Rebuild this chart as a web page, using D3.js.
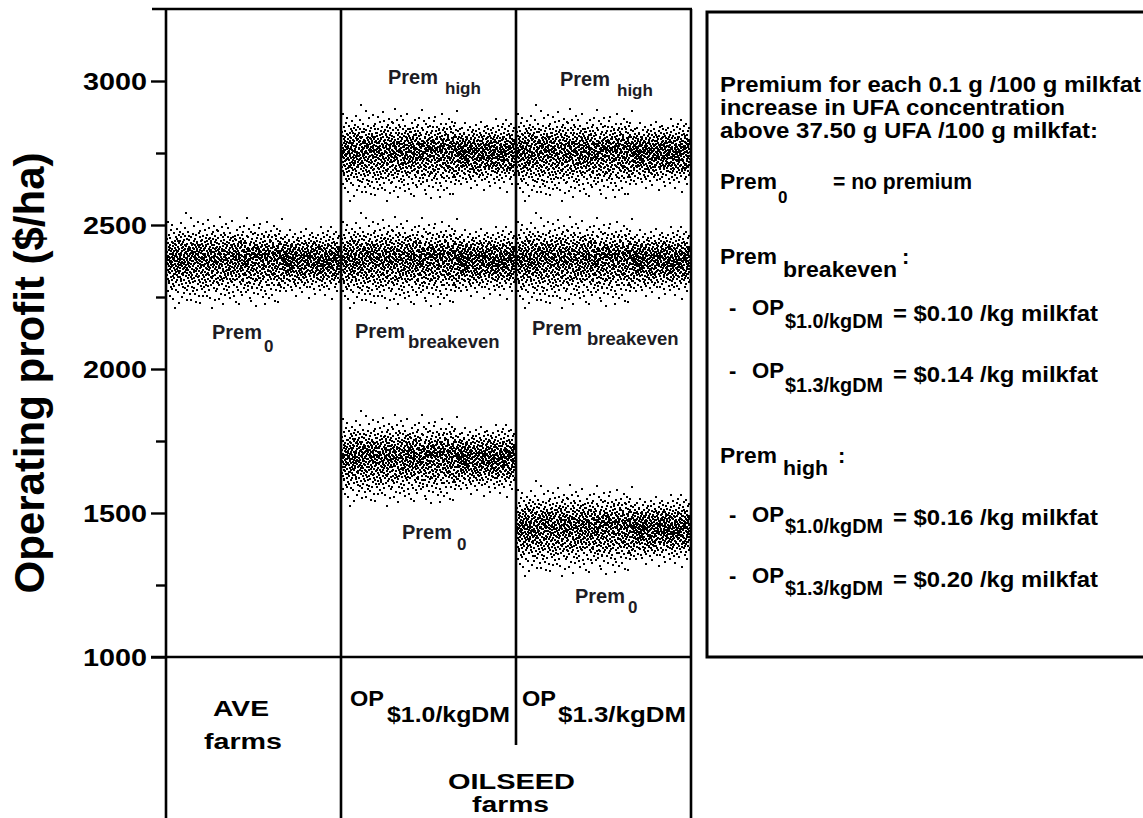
<!DOCTYPE html>
<html>
<head>
<meta charset="utf-8">
<script src="https://cdn.jsdelivr.net/npm/d3@7"></script>
<style>
  body { margin: 0; background: #fff; }
  svg { display: block; font-family: "Liberation Sans", Arial, sans-serif; font-weight: bold; }
</style>
</head>
<body>
<div id="chart"></div>
<script>
// columns of the plot (farm system)
const categories = ["AVE", "OP10", "OP13"];

// one cloud of simulated outcomes per column / premium scenario
const cloudColumn = ["AVE", "OP10", "OP10", "OP10", "OP13", "OP13", "OP13"];
const cloudPremium = ["Prem0", "PremHigh", "PremBreakeven", "Prem0", "PremHigh", "PremBreakeven", "Prem0"];
const cloudMean = [2372, 2745, 2372, 1685, 2745, 2372, 1441];

const majorTicks = [1000, 1500, 2000, 2500, 3000];
const minorTicks = [1250, 1750, 2250, 2750];

// deviation of each simulation iteration from the scenario mean ($/ha)
const drawDeviation = [
  12, -45, 78, -3, 33, -101, 21, -58, 5, 64, -27, 140, -9, 41, -72, 17, -36, 95, -14, 52,
  -66, 8, 29, -118, 47, -2, -39, 83, 15, -24, 59, -87, 3, 36, -51, 110, -19, 26, -7, -62,
  44, -15, -93, 70, 1, -33, 18, 127, -48, 9, -76, 31, 55, -11, -129, 23, 67, -41, 6, -20,
  -84, 38, 13, -57, 99, -6, 48, -28, -160, 74, 19, -43, 2, 61, -35, 88, -13, -70, 27, 40,
  57, -99, 22, 16, -47, 81, -25, 4, 115, -64, 34, -8, -31, 50, 11, -106, 73, -18, 39, -54,
  -1, 65, -37, 92, -12, -80, 28, 46, -143, 14, -23, 71, 7, -52, 103, -30, 20, -68, 58, -4,
  30, -10, 85, -59, 25, 135, -42, -16, 63, 0, -77, 37, -122, 10, 49, -26, 96, -45, -5, 68,
  -38, 53, -89, 18, -7, 42, -108, 76, 24, -21, 5, -63, 119, -34, 60, -2, 32, -91, 45, -17,
  89, -29, 13, 56, -73, -11, 35, 170, -50, 8, -97, 27, 62, -40, 15, -132, 79, -22, 1, 43,
  -56, 19, -6, -84, 104, 38, -28, 51, -14, 77, -46, -3, 90, -67, 22, -113, 47, 9, -35, 28,
  6, -75, 41, -19, 67, -131, 30, 12, -53, 86, -9, -40, 152, 21, -61, 4, 37, -88, 57, -24,
  -44, 98, -15, 26, -70, 49, 3, -102, 33, 62, -27, 16, -57, 125, -8, 44, -36, 72, -92, 10,
  58, -4, -66, 20, 35, -110, 81, -31, 7, -48, 14, 93, -20, 52, -139, 27, -2, 65, -43, 39,
  -25, 70, 11, -96, 46, -13, 29, -54, 137, -5, 60, -78, 24, -33, 8, 100, -64, 17, -118, 53,
  34, -50, 87, -8, -23, 59, -142, 42, 2, -71, 107, -18, 31, 74, -39, -10, 48, -85, 15, -60,
  76, -36, 9, 63, -94, 18, -1, 39, -120, 55, -29, 90, -12, -47, 26, 130, -73, 5, 44, -16,
  -52, 23, -86, 40, 12, -34, 111, -62, 28, -7, 69, -105, 19, 47, -21, 3, -79, 58, -44, 82,
  17, -69, 54, -26, 95, -3, -117, 36, 71, -41, 6, -58, 146, -14, 32, -83, 61, -9, 25, -37,
  -99, 45, -17, 78, 0, -46, 21, 116, -28, 51, -65, 13, -124, 38, 84, -22, 7, -53, 66, 30,
  41, -12, 72, -81, 27, 10, -38, 97, -56, 4, -161, 35, 59, -30, 18, -74, 103, -6, 49, -19,
  -32, 80, -49, 14, 123, -67, 33, -2, -90, 57, 20, -11, 68, -44, -134, 29, 46, -25, 8, 91,
  22, -60, 3, 47, -100, 36, 75, -18, -4, 64, -39, 112, -71, 16, -27, 52, -8, -95, 40, 1,
  -73, 28, 108, -35, 13, -55, 84, -14, 43, -128, 9, 61, -22, 35, -82, 5, 157, -48, 24, -6,
  50, -21, -63, 31, 92, -9, -40, 18, -112, 73, 26, -52, 2, 44, -77, 120, -15, 37, -59, 11,
  -11, 66, -30, -148, 39, 55, -24, 85, -1, -68, 17, 42, -93, 29, 101, -36, 7, -56, 76, -43,
  94, -7, 37, -45, 19, -116, 62, 6, -33, 48, -84, 23, 133, -19, -51, 13, 70, -28, -3, 57,
  -61, 35, -97, 9, 54, -12, 27, -74, 88, -37, 2, 118, -46, 30, -20, 65, -107, 41, 15, -29,
  26, -89, 47, 76, -26, -5, 100, -58, 34, -14, -127, 60, 8, -42, 83, 19, -65, 3, -34, 51,
  -17, 58, -2, -70, 32, 141, -48, 21, -9, 71, -31, 10, -103, 45, 24, -60, 87, -23, 38, -80,
  63, -40, 16, 29, -119, 7, -27, 56, 90, -64, -15, 39, -4, 78, -45, 22, -138, 49, -8, 34,
  -48, 12, 77, -22, 5, -87, 44, 109, -35, 27, -58, 1, 61, -16, -99, 36, 54, -30, 93, -13,
  10, -53, 31, 69, -41, 18, -145, 25, -6, 82, -71, 47, 14, -26, 121, -49, 3, 66, -18, -105,
  71, -33, -14, 50, -78, 24, 8, -62, 95, 37, -21, -114, 57, -3, 20, -43, 80, -11, 42, -66,
  -28, 102, -59, 4, 40, -9, -92, 33, 64, -47, 16, 126, -37, -2, 52, -81, 11, -19, 74, 25,
  55, -16, 22, -103, 67, -44, 35, -8, 12, -57, 91, 3, -30, 154, -72, 28, -13, 46, -96, 7,
  -7, 48, -83, 36, -24, 85, 1, -51, 115, -17, 29, -69, 43, 9, -36, 62, -125, 19, 57, -40,
  38, -72, 6, 59, 13, -29, -136, 70, -45, 24, 105, -12, -55, 32, 0, -88, 45, 79, -20, 15,
  -91, 27, 49, -15, -61, 96, -33, 11, 41, -5, -76, 53, 18, -108, 66, -24, 30, -47, 128, -3,
  19, -42, 99, -68, 26, -10, 58, -152, 37, 8, -27, 73, -60, 16, 47, -4, -90, 24, -35, 60,
  -64, 83, -20, 5, 44, -113, 17, 51, -39, 94, -7, -50, 28, -81, 12, 39, -14, 117, -57, 31,
  46, -5, -74, 38, 131, -31, 9, -55, 66, -18, 23, -98, 52, 35, -43, 2, 80, -67, 14, -26,
  -37, 60, 17, -86, 24, 55, -12, 97, -49, 8, -122, 41, -23, 70, -2, 27, -61, 43, -15, 89,
  85, -24, 42, -6, -52, 20, 74, -100, 31, -35, 12, 60, -147, 26, -19, 105, -41, 6, 53, -70,
  -14, 36, -111, 63, 7, -44, 28, 15, -80, 50, 140, -28, -9, 45, -63, 21, -32, 86, -1, 40,
  28, -81, 55, -19, 92, -3, -47, 34, -125, 18, 69, -14, 37, -54, 4, 77, -30, -93, 47, 12,
  -58, 15, 4, 71, -35, 107, -22, 49, -6, -74, 32, 88, -41, 10, -115, 55, 24, -12, 62, -46,
  67, -28, 33, -60, 18, -9, 124, -39, 51, 3, -82, 26, -17, 95, -53, 40, 9, -137, 30, -21,
  -42, 90, -13, 25, -96, 43, -30, 8, 78, -64, 19, -5, 56, -26, 113, -48, 36, 2, -79, 54,
  9, -50, 74, 47, -18, -139, 30, -72, 14, 61, -34, 98, -11, 39, -56, 22, -102, 68, -3, 27,
  -79, 31, -26, 108, 12, -45, 62, 19, -88, 37, -6, -59, 84, -24, 6, 150, -41, 15, -68, 44,
  14, -38, 52, -7, 25, -66, 3, 41, -19, 80, -48, 9, -27, 60, -2, -91, 33, 18, -55, 70,
  -23, 6, 47, -74, 29, -12, 88, -40, 1, 35, -9, 58, -101, 22, -31, 11, 64, -45, 17, -3,
  39, -58, -16, 26, 93, -35, 8, -6, 54, -82, 21, -27, 45, 2, -63, 75, -14, 30, -41, 12,
  -8, 72, -29, 16, -50, 4, 37, 109, -20, -67, 43, 13, -36, 59, -4, 28, -87, 50, -12, -25,
  61, -19, 33, -44, 10, -97, 55, -1, 24, 41, -58, 7, 86, -30, 18, -15, 38, -70, 5, 47,
  -36, 15, -5, 68, -23, 44, -78, 30, 12, -49, 96, -10, 26, -62, 3, 53, -33, 20, -118, 35,
  27, -84, 58, -13, 6, -39, 19, 77, -52, 1, 31, -21, 63, -8, -74, 40, 11, -46, 84, -18,
  -60, 42, 9, -31, 71, -4, -55, 24, 49, -16, -92, 36, 14, -40, 57, 0, -26, 102, -63, 20,
  4, -28, 83, -47, 16, 30, -11, -69, 45, 7, -34, 66, -20, 23, -105, 50, -7, 37, -53, 13,
  51, -9, -42, 19, -80, 62, 28, -24, 3, 90, -57, 15, -37, 46, -2, -72, 33, -14, 74, -45,
  -17, 35, 67, -54, 8, -21, 113, -36, 22, -5, 48, -88, 26, -11, 59, -30, 6, -64, 41, 2,
  20, -71, 13, 39, -27, 55, -3, 81, -43, 17, -15, 32, -125, 64, -8, 25, -48, 9, 95, -33,
  -49, 10, -86, 30, 52, -18, 4, -40, 73, -61, 37, -2, 18, 99, -29, 43, -12, -77, 21, 56,
  33, -23, 45, -6, -68, 87, -35, 14, -9, 61, -94, 28, 5, -45, 36, -16, 70, -4, -52, 19,
  -12, 64, -39, 23, 9, -111, 40, -22, 57, -1, 26, -70, 48, 12, -33, 84, -56, 31, -7, -26,
  74, -46, 1, -17, 38, 16, -59, 92, -28, 6, -41, 53, -14, -84, 27, 3, 60, -37, 11, 43,
  -3, 29, -62, 50, -30, 69, 7, -13, -99, 34, 15, -51, 79, -25, 44, -8, 21, -40, 122, -65,
  41, -14, 18, -79, 56, -35, 25, 3, -47, 100, -20, 38, -6, 65, -58, 12, -31, 47, -2, -89,
  -28, 85, -52, 7, -15, 46, -73, 32, 19, -38, 58, -10, -116, 24, 1, 71, -44, 16, 36, -21,
  10, -41, 30, 95, -61, 2, -24, 49, -9, 27, -83, 54, 20, -32, 107, -48, 8, -19, 62, -5,
  -54, 17, 76, -11, 34, -94, 13, 60, -27, -3, 42, -66, 88, -18, 29, 5, -39, 120, -75, 24,
  37, -7, -35, 55, -20, 11, 66, -50, 26, -130, 48, -16, 3, 35, -59, 81, -24, 14, -43, 0,
  -21, 47, 15, -64, 98, -29, 6, 31, -46, 22, -10, 70, -37, 9, -87, 44, 18, -55, 28, 63,
  58, -33, 23, -2, -48, 39, -78, 8, 104, -17, 53, -41, 12, -24, 67, -6, -101, 35, -13, 45,
  -42, 25, -11, 83, 4, -57, 32, -26, 50, 18, -71, 37, -4, 91, -36, 20, 7, -63, 43, -15
];

const width = 1143, height = 818;

const svg = d3.select("#chart").append("svg")
    .attr("width", width)
    .attr("height", height);

const y = d3.scaleLinear().domain([1000, 3250]).range([657, 9]);
const x = d3.scaleBand().domain(categories).range([166, 691]);

// helper for plain text, optionally squeezed/stretched to a measured width
function label(g, str, px, py, size, len) {
    const t = g.append("text")
        .attr("x", px)
        .attr("y", py)
        .style("font-size", size + "px")
        .style("fill", "#000")
        .text(str);
    if (len) t.attr("textLength", len).attr("lengthAdjust", "spacingAndGlyphs");
    return t;
}

// points
const n = drawDeviation.length;
cloudMean.forEach((m, c) => {
    const col = cloudColumn[c];
    const xi = d3.scaleLinear().domain([0, n - 1]).range([x(col) + 1, x(col) + x.bandwidth() - 1]);
    svg.append("g")
        .attr("class", "cloud " + cloudPremium[c])
        .selectAll("rect")
        .data(drawDeviation)
        .enter().append("rect")
        .attr("x", (d, i) => Math.round(xi(i)) - 1)
        .attr("y", d => Math.round(y(m + d)) - 1)
        .attr("width", 2)
        .attr("height", 2)
        .attr("shape-rendering", "crispEdges")
        .style("fill", "#000");
});

// frame lines
const yTop = y(3250);
const frame = svg.append("g").attr("stroke", "#000").attr("stroke-width", 2.6).attr("fill", "none");
frame.append("line").attr("x1", 152).attr("x2", 692).attr("y1", yTop).attr("y2", yTop);
frame.append("line").attr("x1", 166).attr("x2", 166).attr("y1", yTop).attr("y2", height);
frame.append("line").attr("x1", x("OP10")).attr("x2", x("OP10")).attr("y1", yTop).attr("y2", height);
frame.append("line").attr("x1", x("OP13")).attr("x2", x("OP13")).attr("y1", yTop).attr("y2", 745);
frame.append("line").attr("x1", 691).attr("x2", 691).attr("y1", yTop).attr("y2", height);
frame.append("line").attr("x1", 151).attr("x2", 692).attr("y1", y(1000)).attr("y2", y(1000));

// y axis
const yAxis = svg.append("g")
    .attr("transform", "translate(166,0)")
    .call(d3.axisLeft(y).tickValues(majorTicks).tickSize(15).tickPadding(4).tickFormat(d3.format("d")));
yAxis.select(".domain").remove();
yAxis.selectAll(".tick line").attr("stroke-width", 2.4);
yAxis.selectAll(".tick text")
    .attr("dy", "0.36em")
    .style("font-size", "24px")
    .style("font-family", "'Liberation Sans', Arial, sans-serif")
    .style("font-weight", "bold")
    .attr("textLength", 64)
    .attr("lengthAdjust", "spacingAndGlyphs");

const yMinor = svg.append("g")
    .attr("transform", "translate(166,0)")
    .call(d3.axisLeft(y).tickValues(minorTicks).tickSize(10).tickFormat(""));
yMinor.select(".domain").remove();
yMinor.selectAll(".tick line").attr("stroke-width", 2.4);

svg.append("text")
    .attr("transform", "translate(44,373) rotate(-90)")
    .attr("text-anchor", "middle")
    .style("font-size", "42px")
    .text("Operating profit ($/ha)");

// scenario labels inside the plot
const plotLabels = [
    { main: "Prem", sub: "0", px: 212, py: 339, sx: 264, sy: 352, ss: 17 },
    { main: "Prem", sub: "high", px: 388, py: 84, sx: 445, sy: 94, ss: 17 },
    { main: "Prem", sub: "high", px: 560, py: 86, sx: 617, sy: 96, ss: 17 },
    { main: "Prem", sub: "breakeven", px: 355, py: 338, sx: 408, sy: 348, ss: 18.5 },
    { main: "Prem", sub: "breakeven", px: 532, py: 335, sx: 587, sy: 345, ss: 18.5 },
    { main: "Prem", sub: "0", px: 402, py: 539, sx: 457, sy: 550, ss: 17 },
    { main: "Prem", sub: "0", px: 575, py: 603, sx: 628, sy: 613, ss: 17 }
];
const pl = svg.append("g");
plotLabels.forEach(d => {
    label(pl, d.main, d.px, d.py, 20, 50).style("fill", "#1c1c24");
    label(pl, d.sub, d.sx, d.sy, d.ss).style("fill", "#1c1c24");
});

// category labels
const cat = svg.append("g");
label(cat, "AVE", 213, 716, 22, 56);
label(cat, "farms", 204, 749, 22, 78);
label(cat, "OP", 350, 706, 22, 34);
label(cat, "$1.0/kgDM", 387, 722, 22, 123);
label(cat, "OP", 522, 706, 22, 34);
label(cat, "$1.3/kgDM", 558, 722, 22, 128);
label(cat, "OILSEED", 448, 789, 22, 127);
label(cat, "farms", 472, 812, 22, 77);

// legend box
const leg = svg.append("g");
leg.append("rect")
    .attr("x", 707).attr("y", 12)
    .attr("width", 460).attr("height", 645)
    .attr("fill", "none").attr("stroke", "#000").attr("stroke-width", 3);

label(leg, "Premium for each 0.1 g /100 g milkfat", 720, 92, 22, 421);
label(leg, "increase in UFA concentration", 720, 115, 22, 345);
label(leg, "above 37.50 g UFA /100 g milkfat:", 720, 138, 22, 378);

label(leg, "Prem", 720, 189, 22, 57);
label(leg, "0", 778, 203, 17);
label(leg, "= no premium", 833, 189, 22, 139);

label(leg, "Prem", 720, 264, 22, 57);
label(leg, "breakeven", 783, 277, 22, 114);
label(leg, ":", 902, 264, 22);

label(leg, "Prem", 720, 463, 22, 57);
label(leg, "high", 783, 475, 21, 45);
label(leg, ":", 838, 463, 22);

const legendRows = [
    { base: 315, subBase: 328, restBase: 321, sub: "$1.0/kgDM", rest: "= $0.10 /kg milkfat" },
    { base: 378, subBase: 392, restBase: 382, sub: "$1.3/kgDM", rest: "= $0.14 /kg milkfat" },
    { base: 522, subBase: 533, restBase: 525, sub: "$1.0/kgDM", rest: "= $0.16 /kg milkfat" },
    { base: 583, subBase: 595, restBase: 587, sub: "$1.3/kgDM", rest: "= $0.20 /kg milkfat" }
];
legendRows.forEach(r => {
    label(leg, "-", 729, r.base, 22);
    label(leg, "OP", 752, r.base, 22, 32);
    label(leg, r.sub, 785, r.subBase, 20, 98);
    label(leg, r.rest, 893, r.restBase, 22, 205);
});
</script>
</body>
</html>
